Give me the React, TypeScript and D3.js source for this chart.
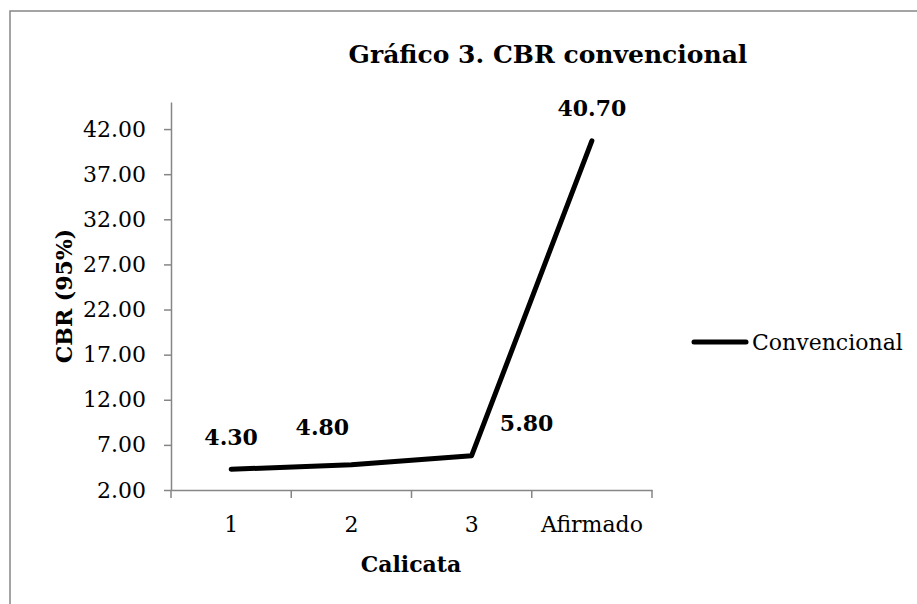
import React, { useEffect, useRef } from 'react';
import * as d3 from 'd3';

const categories = ['1', '2', '3', 'Afirmado'];
const cbrValues = [4.3, 4.8, 5.8, 40.7];
const yTicks = [2, 7, 12, 17, 22, 27, 32, 37, 42];
const seriesName = 'Convencional';

const FONT = "'DejaVu Serif', serif";

const App = () => {
  const svgRef = useRef<SVGSVGElement | null>(null);

  useEffect(() => {
    const svg = d3.select(svgRef.current);
    svg.selectAll('*').remove();

    const x = d3.scaleBand().domain(categories).range([171, 652]).padding(0);
    const y = d3.scaleLinear().domain([2, 45]).range([490, 102]);
    const axisColor = '#868686';

    // frame (only top and left edges fall inside the picture)
    svg.append('rect')
      .attr('x', 10).attr('y', 11)
      .attr('width', 960).attr('height', 640)
      .attr('fill', 'white')
      .attr('stroke', axisColor).attr('stroke-width', 1.5);

    svg.append('text')
      .attr('x', 548).attr('y', 63)
      .attr('text-anchor', 'middle')
      .attr('font-family', FONT).attr('font-weight', 'bold')
      .attr('font-size', 25)
      .text('Gráfico 3. CBR convencional');

    // y axis
    const yAxis = svg.append('g').attr('transform', 'translate(171,0)')
      .call(d3.axisLeft(y).tickValues(yTicks).tickSize(7).tickSizeOuter(0).tickPadding(18)
        .tickFormat((d) => d3.format('.2f')(d as number)));
    yAxis.select('.domain').attr('stroke', axisColor).attr('stroke-width', 1.5);
    yAxis.selectAll('.tick line').attr('stroke', axisColor).attr('stroke-width', 1.5);
    yAxis.selectAll('.tick text')
      .attr('font-family', FONT).attr('font-size', 22).attr('fill', '#000');

    // x axis
    const xAxis = svg.append('g').attr('transform', 'translate(0,490)')
      .call(d3.axisBottom(x).tickSize(0).tickSizeOuter(0).tickPadding(26));
    xAxis.select('.domain').attr('stroke', axisColor).attr('stroke-width', 1.5);
    xAxis.selectAll('.tick text')
      .attr('font-family', FONT).attr('font-size', 22).attr('fill', '#000');
    const bounds = [...categories.map((c) => x(c) as number), 652];
    xAxis.selectAll('.bound').data(bounds).enter().append('line')
      .attr('x1', (d) => d).attr('x2', (d) => d)
      .attr('y1', 0).attr('y2', 8)
      .attr('stroke', axisColor).attr('stroke-width', 1.5);

    // axis titles
    svg.append('text')
      .attr('x', 411).attr('y', 572)
      .attr('text-anchor', 'middle')
      .attr('font-family', FONT).attr('font-weight', 'bold').attr('font-size', 22)
      .text('Calicata');
    svg.append('text')
      .attr('transform', 'translate(72,296) rotate(-90)')
      .attr('text-anchor', 'middle')
      .attr('font-family', FONT).attr('font-weight', 'bold').attr('font-size', 22)
      .text('CBR (95%)');

    // line
    const pts = categories.map((c, i) => [(x(c) as number) + x.bandwidth() / 2, y(cbrValues[i])] as [number, number]);
    svg.append('path')
      .attr('d', d3.line()(pts))
      .attr('fill', 'none').attr('stroke', '#000')
      .attr('stroke-width', 5).attr('stroke-linecap', 'round').attr('stroke-linejoin', 'round');

    // data labels
    const labelOffsets: [number, number][] = [[0, -24], [-29, -30], [55, -25], [0, -25]];
    svg.selectAll('.lbl').data(pts).enter().append('text')
      .attr('x', (d, i) => d[0] + labelOffsets[i][0])
      .attr('y', (d, i) => d[1] + labelOffsets[i][1])
      .attr('text-anchor', 'middle')
      .attr('font-family', FONT).attr('font-weight', 'bold').attr('font-size', 22)
      .text((d, i) => cbrValues[i].toFixed(2));

    // legend
    svg.append('line')
      .attr('x1', 694).attr('x2', 746).attr('y1', 342).attr('y2', 342)
      .attr('stroke', '#000').attr('stroke-width', 5).attr('stroke-linecap', 'round');
    svg.append('text')
      .attr('x', 752).attr('y', 350)
      .attr('font-family', FONT).attr('font-size', 22)
      .text(seriesName);
  }, []);

  return (
    <svg ref={svgRef} width={917} height={604}
      style={{ position: 'absolute', left: 0, top: 0 }} />
  );
};

export default App;
